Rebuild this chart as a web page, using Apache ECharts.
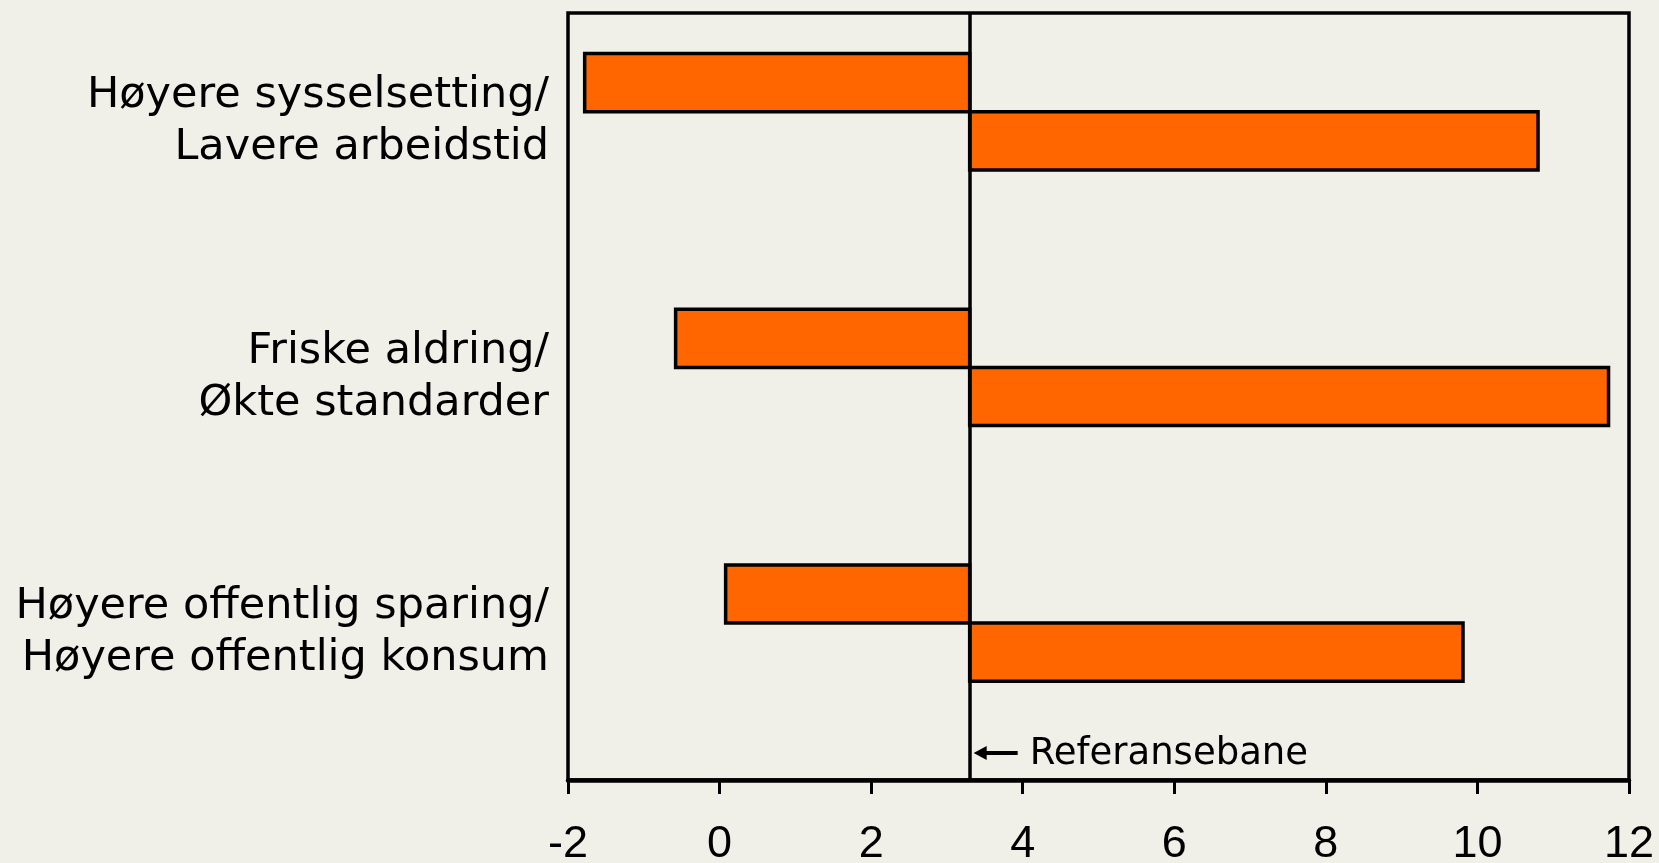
<!DOCTYPE html>
<html>
<head>
<meta charset="utf-8">
<script src="https://cdn.jsdelivr.net/npm/echarts@6/dist/echarts.min.js"></script>
<style>
  html, body { margin: 0; padding: 0; background: #f0efe8; }
  #main { width: 1659px; height: 863px; }
</style>
</head>
<body>
<div id="main"></div>
<script>
  // data
  var categories = [
    'Høyere sysselsetting/\nLavere arbeidstid',
    'Friske aldring/\nØkte standarder',
    'Høyere offentlig sparing/\nHøyere offentlig konsum'
  ];
  var upperValues = [-1.78, -0.58, 0.08];
  var lowerValues = [10.8, 11.73, 9.81];
  var referanse = 3.3;
  var xTicks = { min: -2, max: 12, interval: 2 };

  // [value, category index, slot in band]
  var barData = [];
  categories.forEach(function (c, i) {
    barData.push([upperValues[i], i, 0]);
    barData.push([lowerValues[i], i, 1]);
  });

  var chart = echarts.init(document.getElementById('main'));

  function renderBar(params, api) {
    var val = api.value(0);
    var cat = api.value(1);
    var slot = api.value(2);
    var end = api.coord([val, cat]);
    var base = api.coord([referanse, cat]);
    var band = api.size([0, 1])[1];
    var h = band * 0.2275;
    var y = end[1] + (slot - 1.5) * h;
    return {
      type: 'rect',
      shape: {
        x: Math.min(end[0], base[0]),
        y: y,
        width: Math.abs(end[0] - base[0]),
        height: h
      },
      style: { fill: '#ff6600', stroke: '#000', lineWidth: 3.5 }
    };
  }

  chart.setOption({
    backgroundColor: '#f0efe8',
    animation: false,
    grid: {
      left: 568, right: 30, top: 13, bottom: 83,
      outerBoundsMode: 'none',
      containLabel: false,
      show: true, borderColor: '#000', borderWidth: 3.5, backgroundColor: 'transparent'
    },
    xAxis: {
      type: 'value',
      min: xTicks.min, max: xTicks.max, interval: xTicks.interval,
      splitLine: { show: false },
      axisLine: { show: true, lineStyle: { color: '#000', width: 4.5 } },
      axisTick: { show: true, length: 14, lineStyle: { color: '#000', width: 3 } },
      axisLabel: {
        color: '#000', fontSize: 45, margin: 42,
        fontFamily: 'Liberation Sans, Arial, sans-serif'
      }
    },
    yAxis: {
      type: 'category',
      inverse: true,
      data: categories,
      axisLine: { show: false },
      axisTick: { show: false },
      axisLabel: {
        interval: 0,
        margin: 19,
        align: 'right',
        // trailing spacer line lifts the two text lines above the band centre
        formatter: function (v) {
          return v.split('\n').map(function (s) { return '{t|' + s + '}'; }).join('\n') + '\n{s|}';
        },
        rich: {
          t: {
            color: '#000', fontSize: 43, lineHeight: 52, align: 'right',
            fontFamily: 'DejaVu Sans, Verdana, sans-serif'
          },
          s: { fontSize: 10, lineHeight: 38 }
        }
      }
    },
    series: [{
      type: 'custom',
      renderItem: renderBar,
      encode: { x: 0, y: 1 },
      data: barData,
      markLine: {
        silent: true,
        symbol: 'none',
        label: { show: false },
        lineStyle: { color: '#000', width: 3.5, type: 'solid' },
        data: [{ xAxis: referanse }],
        z: 10
      }
    }]
  });

  // arrow + label beside the reference line
  var rx = chart.convertToPixel({ xAxisIndex: 0 }, referanse);
  var ly = 753;
  chart.setOption({
    graphic: [
      { type: 'polygon', shape: { points: [[rx + 4, ly], [rx + 17, ly - 7], [rx + 17, ly + 7]] }, style: { fill: '#000' } },
      { type: 'line', shape: { x1: rx + 15, y1: ly, x2: rx + 48, y2: ly }, style: { stroke: '#000', lineWidth: 4 } },
      {
        type: 'text', x: rx + 60, y: ly + 1,
        style: {
          text: 'Referansebane', fill: '#000', fontSize: 37,
          fontFamily: 'DejaVu Sans, Verdana, sans-serif', verticalAlign: 'middle'
        }
      }
    ]
  });
</script>
</body>
</html>
